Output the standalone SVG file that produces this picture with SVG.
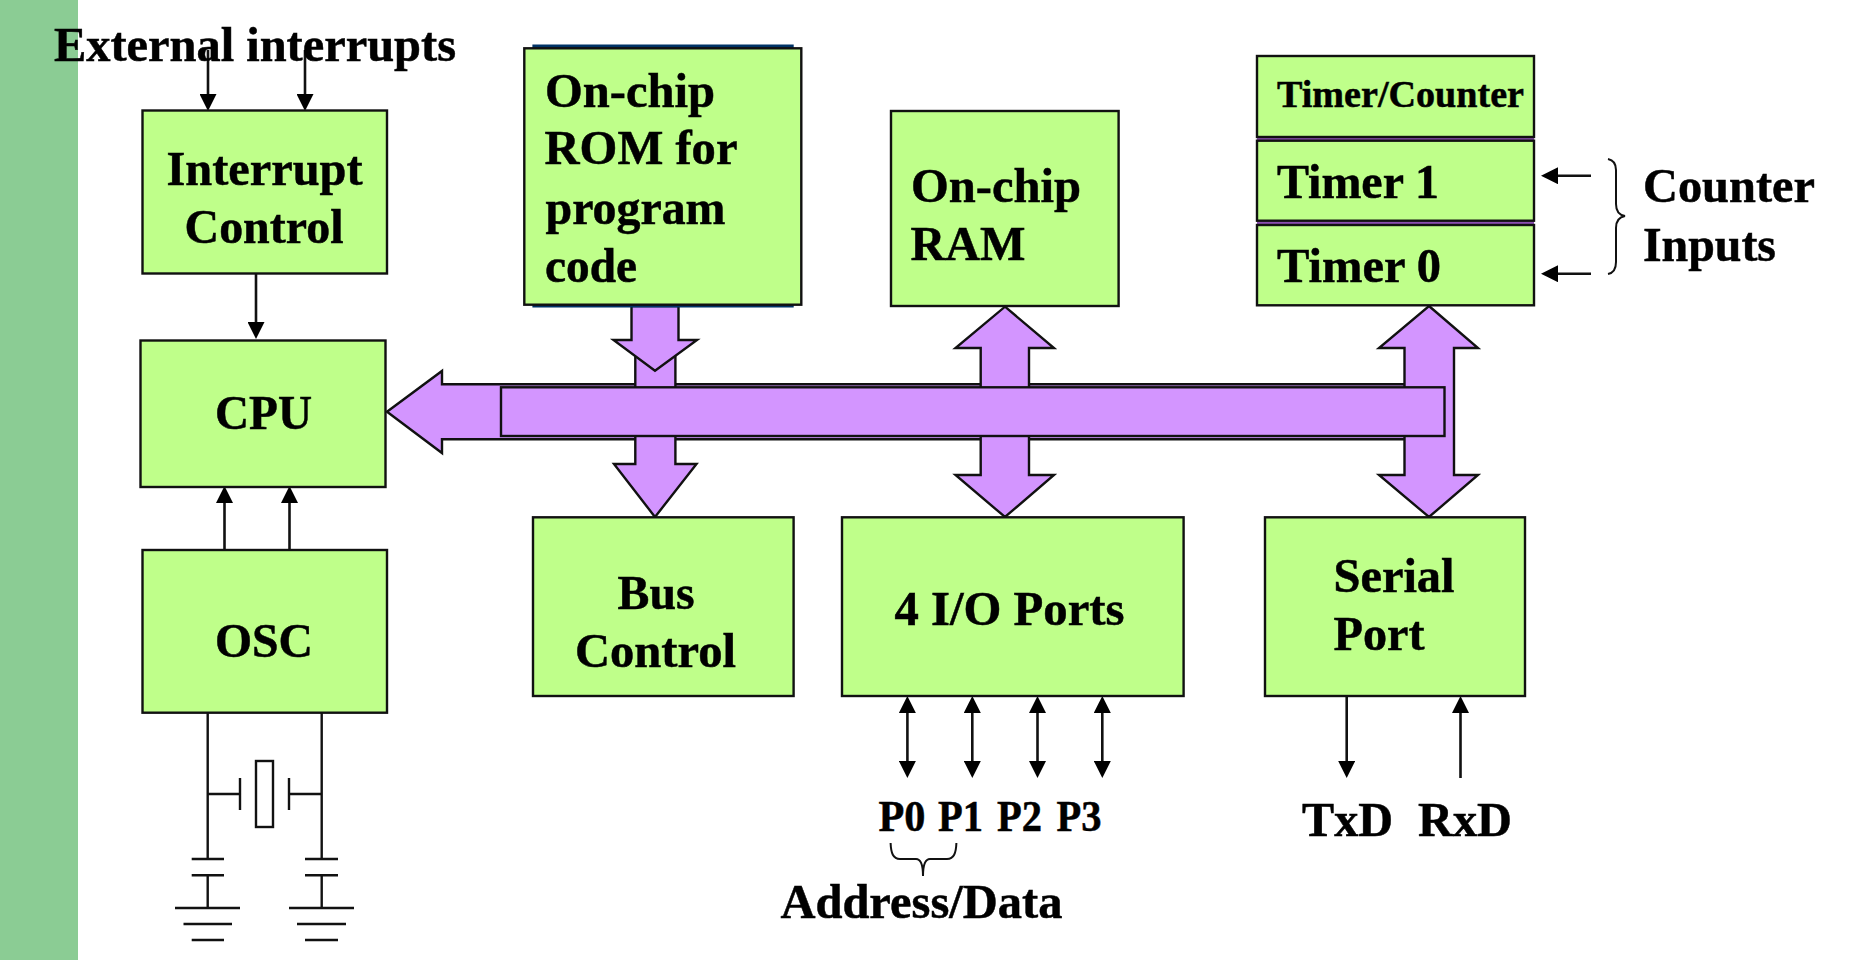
<svg xmlns="http://www.w3.org/2000/svg" width="1856" height="960" viewBox="0 0 1856 960">
<style>
.box{fill:#BFFF8A;stroke:#111;stroke-width:2.4}
.bus{fill:#D395FF;stroke:#111;stroke-width:2.4;stroke-linejoin:miter}
.t{font-family:"Liberation Serif","Times New Roman",serif;font-weight:700;font-size:49px;fill:#000;stroke:#000;stroke-width:.5}
.s{font-size:38px}
.p{font-size:44px}
.w{fill:none;stroke:#111;stroke-width:2.4}
.g{fill:none;stroke:#111;stroke-width:2}
.a{fill:none;stroke:#111;stroke-width:2.6}
.ae{marker-end:url(#head)}
.as{marker-start:url(#headS)}
</style>
<defs>
<marker id="head" markerUnits="userSpaceOnUse" markerWidth="17" markerHeight="17" viewBox="0 0 17 17" refX="8" refY="8.5" orient="auto"><path d="M0 0L17 8.5L0 17Z" fill="#000"/></marker>
<marker id="headS" markerUnits="userSpaceOnUse" markerWidth="17" markerHeight="17" viewBox="0 0 17 17" refX="8" refY="8.5" orient="auto-start-reverse"><path d="M0 0L17 8.5L0 17Z" fill="#000"/></marker>
</defs>
<rect id="band" x="0" y="0" width="78" height="960" fill="#8BCC94"/>
<g id="connectors">
<path class="bus" d="M387 411.7L442 371V384.3H1410V439.3H442V453Z"/>
<path class="bus" d="M635.3 355V464H614L655 517L696.5 464H675.4V355Z"/>
<path class="bus" d="M631.5 306V340H613.5L655 370.7L697 340H678.5V306Z"/>
<path class="bus" d="M1005 306.7L1054 348H1029V475H1054L1005 517L955.5 475H980.7V348H955.5Z"/>
<path class="bus" d="M1429 306L1478 348H1454V475H1478L1429 517L1379 475H1404.5V348H1379Z"/>
<rect class="bus" x="501" y="387.3" width="943.5" height="48.7"/>
<path class="a ae" d="M208 50V102"/>
<path class="a ae" d="M305 50V102"/>
<path class="a ae" d="M256 274V330"/>
<path class="a ae" d="M224.5 550V495"/>
<path class="a ae" d="M289.5 550V495"/>
<path class="a ae as" d="M907.4 705V769"/>
<path class="a ae as" d="M972.3 705V769"/>
<path class="a ae as" d="M1037.5 705V769"/>
<path class="a ae as" d="M1102.3 705V769"/>
<path class="a ae" d="M1346.7 696V769"/>
<path class="a ae" d="M1460.5 778V705"/>
<path class="a ae" d="M1591 175.7H1550"/>
<path class="a ae" d="M1591 273.7H1550"/>
<path class="g" d="M1608 159C1613 160 1616 163 1616 170V204C1616 211 1619 215 1625 216C1619 217 1616 221 1616 228V262C1616 269 1613 273 1608 274"/>
<path class="g" d="M890.6 843C891 853 893 859 900 859H916C920 859 923 863 923 876C923 863 926 859 930 859H947C954 859 956 853 956.4 843"/>
<path class="w" d="M207.7 713V859M191.7 859H224M191.7 875.3H224M207.7 875.3V908M175 908H240M183.5 924H232M191.7 940H224"/>
<path class="w" d="M321.7 713V859M305 859H338M305 875.3H338M321.7 875.3V908M289 908H354M297 924H346M305 940H338"/>
<path class="w" d="M207.7 794H240M240 778V810M321.7 794H289M289 778V810"/>
<rect class="w" x="256" y="761" width="17" height="66"/>
</g>
<g id="external-interrupts"><text class="t" x="54" y="61" textLength="402" lengthAdjust="spacingAndGlyphs">External interrupts</text></g>
<g id="interrupt-control"><rect class="box" x="142.5" y="110.5" width="244.5" height="163"/><text class="t" x="166.5" y="185" textLength="196" lengthAdjust="spacingAndGlyphs">Interrupt</text><text class="t" x="184.5" y="243" textLength="159" lengthAdjust="spacingAndGlyphs">Control</text></g>
<g id="cpu"><rect class="box" x="140.5" y="340.5" width="245" height="146.5"/><text class="t" x="215" y="429" textLength="97" lengthAdjust="spacingAndGlyphs">CPU</text></g>
<g id="osc"><rect class="box" x="142.5" y="550" width="244.5" height="162.7"/><text class="t" x="215" y="657" textLength="98" lengthAdjust="spacingAndGlyphs">OSC</text></g>
<g id="on-chip-rom"><rect x="532.4" y="44.5" width="261.3" height="263" fill="#003366"/><rect class="box" x="524.3" y="48.3" width="277" height="256.4"/>
<text class="t" x="545" y="107" textLength="170" lengthAdjust="spacingAndGlyphs">On-chip</text><text class="t" x="544.5" y="164" textLength="193" lengthAdjust="spacingAndGlyphs">ROM for</text><text class="t" x="545.5" y="223.5" textLength="180" lengthAdjust="spacingAndGlyphs">program</text><text class="t" x="545" y="281.5" textLength="92" lengthAdjust="spacingAndGlyphs">code</text></g>
<g id="on-chip-ram"><rect class="box" x="891" y="111" width="227.6" height="195"/><text class="t" x="911" y="202" textLength="170" lengthAdjust="spacingAndGlyphs">On-chip</text><text class="t" x="910.5" y="260" textLength="115" lengthAdjust="spacingAndGlyphs">RAM</text></g>
<g id="timers"><rect x="1257" y="136" width="277" height="90" fill="#8A4FB0"/><rect class="box" x="1257" y="56" width="277" height="81"/><rect class="box" x="1257" y="140.7" width="277" height="80"/><rect class="box" x="1257" y="225" width="277" height="80.3"/>
<text class="t s" x="1277" y="107" textLength="247" lengthAdjust="spacingAndGlyphs">Timer/Counter</text><text class="t" x="1277" y="197.5" textLength="162" lengthAdjust="spacingAndGlyphs">Timer 1</text><text class="t" x="1277" y="281.5" textLength="164" lengthAdjust="spacingAndGlyphs">Timer 0</text></g>
<g id="counter-inputs"><text class="t" x="1643" y="201.5" textLength="172" lengthAdjust="spacingAndGlyphs">Counter</text><text class="t" x="1643" y="260.5" textLength="133" lengthAdjust="spacingAndGlyphs">Inputs</text></g>
<g id="bus-control"><rect class="box" x="533" y="517.3" width="260.6" height="178.7"/><text class="t" x="617.6" y="609" textLength="77" lengthAdjust="spacingAndGlyphs">Bus</text><text class="t" x="575" y="667" textLength="161" lengthAdjust="spacingAndGlyphs">Control</text></g>
<g id="io-ports"><rect class="box" x="842" y="517.3" width="341.6" height="178.7"/><text class="t" x="894.5" y="625" textLength="230" lengthAdjust="spacingAndGlyphs">4 I/O Ports</text></g>
<g id="serial-port"><rect class="box" x="1265" y="517.3" width="260" height="178.7"/><text class="t" x="1333.5" y="592" textLength="121" lengthAdjust="spacingAndGlyphs">Serial</text><text class="t" x="1333.5" y="650" textLength="91" lengthAdjust="spacingAndGlyphs">Port</text></g>
<g id="port-labels"><text class="t p" x="878.5" y="831" textLength="47" lengthAdjust="spacingAndGlyphs">P0</text><text class="t p" x="938" y="831" textLength="45" lengthAdjust="spacingAndGlyphs">P1</text><text class="t p" x="997" y="831" textLength="45" lengthAdjust="spacingAndGlyphs">P2</text><text class="t p" x="1056.5" y="831" textLength="45" lengthAdjust="spacingAndGlyphs">P3</text>
<text class="t" x="1302" y="836" textLength="91" lengthAdjust="spacingAndGlyphs">TxD</text><text class="t" x="1418" y="836" textLength="94" lengthAdjust="spacingAndGlyphs">RxD</text>
<text class="t" x="780.4" y="917.5" textLength="282" lengthAdjust="spacingAndGlyphs">Address/Data</text></g>
</svg>
